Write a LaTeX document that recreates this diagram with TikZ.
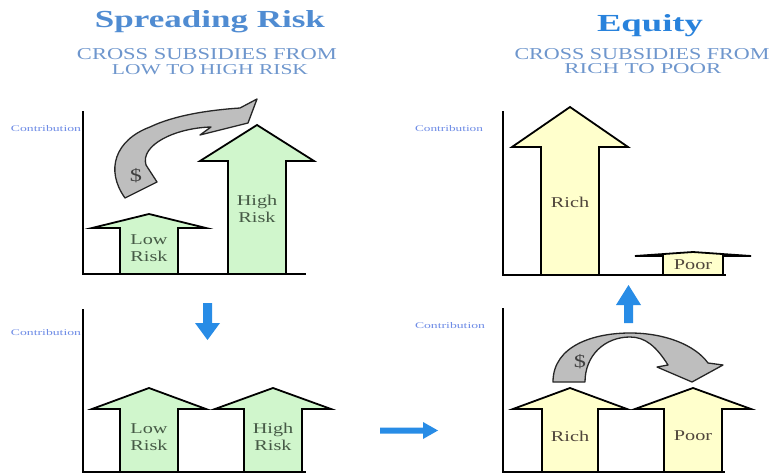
\documentclass[tikz,border=0pt]{standalone}
\usepackage{fontspec}
\setmainfont{Liberation Serif}
\usepackage{graphicx}
\definecolor{greenfill}{RGB}{208,246,204}
\definecolor{yellowfill}{RGB}{255,255,204}
\definecolor{grayfill}{RGB}{190,190,190}
\definecolor{bluearrow}{RGB}{40,140,230}
\definecolor{titleblueA}{RGB}{80,140,210}
\definecolor{titleblueB}{RGB}{40,130,220}
\definecolor{subblue}{RGB}{110,150,205}
\definecolor{contribblue}{RGB}{110,140,230}
\definecolor{risktext}{RGB}{70,90,70}
\definecolor{richtext}{RGB}{80,70,60}
\newcommand\blockarrow[7]{%
  \draw[#1] (#2,#3) -- ({#2+#5},#4) -- ({#2+#6},#4) -- ({#2+#6},#7) -- ({#2-#6},#7) -- ({#2-#6},#4) -- ({#2-#5},#4) -- cycle;}
\newcommand\wx[1]{\scalebox{1.35}[1]{#1}}
\begin{document}
\begin{tikzpicture}[x=1pt,y=-1pt,
  ax/.style={line width=2pt,line cap=rect},
  grn/.style={draw=black,line width=1.8pt,fill=greenfill,line join=miter},
  ylw/.style={draw=black,line width=1.8pt,fill=yellowfill,line join=miter},
  gry/.style={draw=black!85,line width=1.3pt,fill=grayfill,line join=round},
  blu/.style={fill=bluearrow,draw=none},
  rlbl/.style={inner sep=0pt,align=center,text=risktext,font=\fontsize{15}{17}\selectfont},
  plbl/.style={inner sep=0pt,align=center,text=richtext,font=\fontsize{15}{17}\selectfont},
  contrib/.style={inner sep=0pt,anchor=base,text=contribblue},
  ttl/.style={inner sep=0pt,anchor=base},
  dollar/.style={inner sep=0pt,text=black!75,font=\fontsize{18}{20}\selectfont}]
\useasboundingbox[fill=white] (0,0) rectangle (776,473);

% titles
\node[ttl,text=titleblueA] (t1) at (210,28) {\resizebox{230pt}{17pt}{\bfseries Spreading Risk}};
\node[ttl,text=subblue] (s1a) at (207,60) {\resizebox{260pt}{11pt}{CROSS SUBSIDIES FROM}};
\node[ttl,text=subblue] (s1b) at (210,75) {\resizebox{196pt}{10pt}{LOW TO HIGH RISK}};
\node[ttl,text=titleblueB] (t2) at (650,32) {\resizebox{106pt}{17pt}{\bfseries Equity}};
\node[ttl,text=subblue] (s2a) at (642,60) {\resizebox{255pt}{11pt}{CROSS SUBSIDIES FROM}};
\node[ttl,text=subblue] (s2b) at (643,74) {\resizebox{157pt}{10pt}{RICH TO POOR}};

% contribution labels
\node[contrib] (c1) at (46,132) {\resizebox{70pt}{6pt}{Contribution}};
\node[contrib] (c2) at (449,132) {\resizebox{68pt}{6pt}{Contribution}};
\node[contrib] (c3) at (46,335) {\resizebox{70pt}{6pt}{Contribution}};
\node[contrib] (c4) at (450,328) {\resizebox{70pt}{6pt}{Contribution}};

% axes
\draw[ax] (83,112) -- (83,274) -- (305,274);
\draw[ax] (503,112) -- (503,275) -- (725,275);
\draw[ax] (83,310) -- (83,472) -- (305,472);
\draw[ax] (503,309) -- (503,472) -- (724,472);

% top-left panel
\blockarrow{grn}{149}{214}{228}{57}{29}{274}
\blockarrow{grn}{257}{125}{161}{57}{29}{274}
\node[rlbl] (tlLow) at (149,248) {\wx{Low}\\\wx{Risk}};
\node[rlbl] (tlHigh) at (257,209) {\wx{High}\\\wx{Risk}};
\draw[gry] (125,198) .. controls (105,170) and (115,140) .. (150,127) .. controls (175,115) and (210,110) .. (240,108) -- (257,99) -- (248,123) -- (200,135) -- (211,127) .. controls (175,128) and (140,145) .. (146,165) -- (157,182) -- cycle;
\node[dollar] (d1) at (136,176) {\wx{\$}};

% top-right panel
\blockarrow{ylw}{570}{107}{147}{58}{29}{275}
\blockarrow{ylw}{693}{252}{256}{58}{30}{275}
\node[plbl] (trRich) at (570,202) {\wx{Rich}};
\node[plbl] (trPoor) at (693,265) {\wx{Poor}};

% bottom-left panel
\blockarrow{grn}{149}{388}{409}{57}{29}{472}
\blockarrow{grn}{273}{388}{409}{58}{29}{472}
\node[rlbl] (blLow) at (149,437) {\wx{Low}\\\wx{Risk}};
\node[rlbl] (blHigh) at (273,437) {\wx{High}\\\wx{Risk}};

% bottom-right panel
\blockarrow{ylw}{570}{388}{409}{57}{28}{472}
\blockarrow{ylw}{693}{388}{409}{58}{29}{472}
\node[plbl] (brRich) at (570,436) {\wx{Rich}};
\node[plbl] (brPoor) at (693,436) {\wx{Poor}};
\draw[gry] (553,382) .. controls (553,345) and (595,333) .. (630,333) .. controls (665,333) and (695,345) .. (708,363) -- (723,365) -- (692,382) -- (657,367) -- (668,365) .. controls (656,346) and (645,337) .. (630,337) .. controls (605,337) and (585,355) .. (585,382) -- cycle;
\node[dollar] (d2) at (580,362) {\wx{\$}};

% blue arrows
\fill[blu] (203,303) -- (212,303) -- (212,323) -- (220,323) -- (207.5,340) -- (195,323) -- (203,323) -- cycle;
\fill[blu] (380,427.5) -- (423,427.5) -- (423,422) -- (438,430.5) -- (423,439) -- (423,433.5) -- (380,433.5) -- cycle;
\fill[blu] (624,323) -- (633,323) -- (633,305) -- (641,305) -- (628.5,285) -- (616,305) -- (624,305) -- cycle;
\end{tikzpicture}
\end{document}
